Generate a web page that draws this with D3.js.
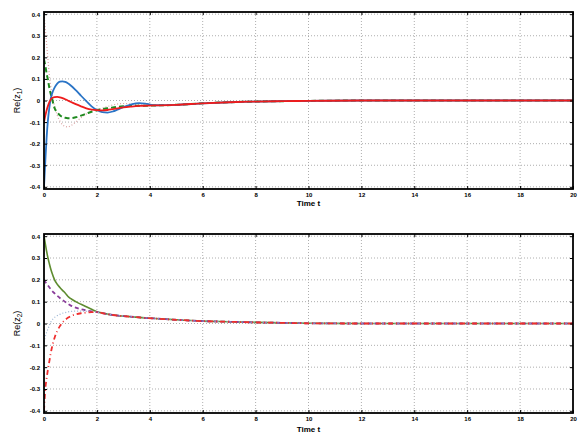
<!DOCTYPE html>
<html>
<head>
<meta charset="utf-8">
<script src="https://cdn.jsdelivr.net/npm/d3@7"></script>
<style>
  body { margin: 0; background: #fff; }
  text { font-family: "Liberation Sans", Arial, sans-serif; }
</style>
</head>
<body>
<script>
// time samples shared by all series
const time = [0, 0.05, 0.1, 0.15, 0.2, 0.25, 0.3, 0.4, 0.5, 0.6, 0.7, 0.8, 0.9, 1.0,
  1.2, 1.4, 1.6, 1.8, 2.0, 2.2, 2.4, 2.6, 2.8, 3.0, 3.3, 3.6, 3.9, 4.2,
  5, 6, 7, 8, 9, 10, 12, 14, 16, 18, 20];

// Re(z1)
const z1Blue = [-0.40, -0.28, -0.17, -0.09, -0.035, 0.005, 0.03, 0.06, 0.078, 0.087, 0.089, 0.086, 0.08, 0.071,
  0.048, 0.022, -0.003, -0.027, -0.044, -0.054, -0.056, -0.051, -0.041, -0.031, -0.018, -0.012, -0.016, -0.022,
  -0.02, -0.013, -0.008, -0.005, -0.003, -0.002, 0, 0, 0, 0, 0];
const z1Red = [-0.10, -0.07, -0.045, -0.025, -0.008, 0.004, 0.011, 0.016, 0.017, 0.015, 0.011, 0.006, 0.0, -0.006,
  -0.017, -0.027, -0.036, -0.042, -0.045, -0.046, -0.044, -0.04, -0.036, -0.032, -0.028, -0.025, -0.024, -0.023,
  -0.02, -0.013, -0.008, -0.005, -0.003, -0.002, 0, 0, 0, 0, 0];
const z1Green = [0.19, 0.16, 0.125, 0.095, 0.06, 0.032, 0.01, -0.035, -0.055, -0.068, -0.076, -0.08, -0.082, -0.082,
  -0.078, -0.07, -0.061, -0.052, -0.045, -0.04, -0.036, -0.032, -0.029, -0.027, -0.025, -0.024, -0.024, -0.023,
  -0.02, -0.013, -0.008, -0.005, -0.003, -0.002, 0, 0, 0, 0, 0];
const z1Pink = [0.40, 0.33, 0.26, 0.19, 0.12, 0.07, 0.03, -0.025, -0.068, -0.095, -0.112, -0.12, -0.122, -0.118,
  -0.1, -0.08, -0.062, -0.05, -0.043, -0.036, -0.028, -0.021, -0.016, -0.014, -0.016, -0.02, -0.023, -0.023,
  -0.02, -0.013, -0.008, -0.005, -0.003, -0.002, 0, 0, 0, 0, 0];

// Re(z2)
const z2Olive = [0.40, 0.365, 0.33, 0.30, 0.275, 0.252, 0.232, 0.20, 0.18, 0.165, 0.152, 0.14, 0.125, 0.115,
  0.1, 0.088, 0.077, 0.065, 0.054, 0.048, 0.043, 0.039, 0.036, 0.034, 0.031, 0.028, 0.025, 0.023,
  0.017, 0.011, 0.008, 0.005, 0.003, 0.001, 0, 0, 0, 0, 0];
const z2Purple = [0.20, 0.19, 0.182, 0.174, 0.166, 0.158, 0.15, 0.138, 0.127, 0.117, 0.108, 0.099, 0.09, 0.083,
  0.073, 0.065, 0.06, 0.056, 0.052, 0.048, 0.043, 0.039, 0.036, 0.034, 0.031, 0.028, 0.025, 0.023,
  0.017, 0.011, 0.008, 0.005, 0.003, 0.001, 0, 0, 0, 0, 0];
const z2LightBlue = [-0.085, -0.06, -0.04, -0.025, -0.01, 0.005, 0.015, 0.028, 0.036, 0.042, 0.047, 0.05, 0.053, 0.055,
  0.057, 0.057, 0.056, 0.054, 0.052, 0.048, 0.043, 0.039, 0.036, 0.034, 0.031, 0.028, 0.025, 0.023,
  0.017, 0.011, 0.008, 0.005, 0.003, 0.001, 0, 0, 0, 0, 0];
const z2Red = [-0.40, -0.30, -0.25, -0.21, -0.175, -0.14, -0.11, -0.065, -0.035, -0.012, 0.005, 0.016, 0.026, 0.033,
  0.042, 0.047, 0.05, 0.052, 0.052, 0.048, 0.043, 0.039, 0.036, 0.034, 0.031, 0.028, 0.025, 0.023,
  0.017, 0.011, 0.008, 0.005, 0.003, 0.001, 0, 0, 0, 0, 0];

const xTicks = [0, 2, 4, 6, 8, 10, 12, 14, 16, 18, 20];
const yTicks = [-0.4, -0.3, -0.2, -0.1, 0, 0.1, 0.2, 0.3, 0.4];

const W = 588, H = 438;
const svg = d3.select("body").append("svg")
  .attr("width", W).attr("height", H);

const fmt = d => String(+d.toFixed(1));

function drawPanel(id, box, label, series) {
  const x = d3.scaleLinear().domain([0, 20]).range([box.l, box.r]);
  const y = d3.scaleLinear().domain([-0.41, 0.41]).range([box.b, box.t]);
  const g = svg.append("g");

  // dotted grid
  g.append("g").selectAll("line").data(xTicks.slice(1, -1)).enter().append("line")
    .attr("x1", d => x(d)).attr("x2", d => x(d))
    .attr("y1", box.t).attr("y2", box.b)
    .attr("stroke", "#999").attr("stroke-width", 0.8).attr("stroke-dasharray", "1,2");
  g.append("g").selectAll("line").data(yTicks).enter().append("line")
    .attr("x1", box.l).attr("x2", box.r)
    .attr("y1", d => y(d)).attr("y2", d => y(d))
    .attr("stroke", "#999").attr("stroke-width", 0.8).attr("stroke-dasharray", "1,2");

  g.append("clipPath").attr("id", id)
    .append("rect").attr("x", box.l).attr("y", box.t)
    .attr("width", box.r - box.l).attr("height", box.b - box.t);

  const line = d3.line()
    .x((d, i) => x(time[i]))
    .y(d => y(d))
    .curve(d3.curveMonotoneX);

  const lines = g.append("g").attr("clip-path", `url(#${id})`);
  series.forEach(s => {
    lines.append("path")
      .attr("d", line(s.values))
      .attr("fill", "none")
      .attr("stroke", s.color)
      .attr("stroke-width", s.width)
      .attr("stroke-dasharray", s.dash || null);
  });

  // axes with inward ticks
  const ax = (axis, tx, ty, labels) => {
    const a = g.append("g").attr("transform", `translate(${tx},${ty})`).call(axis);
    a.select(".domain").remove();
    a.selectAll(".tick line").attr("stroke", "#000").attr("stroke-width", 1);
    a.selectAll("text")
      .attr("font-size", "6px").attr("font-weight", "bold").attr("fill", "#000")
      .style("font-family", "'Liberation Sans', Arial, sans-serif");
    if (!labels) a.selectAll("text").remove();
    return a;
  };
  ax(d3.axisBottom(x).tickValues(xTicks).tickSize(-3).tickPadding(4).tickFormat(fmt), 0, box.b, true);
  ax(d3.axisTop(x).tickValues(xTicks).tickSize(-3), 0, box.t, false);
  ax(d3.axisLeft(y).tickValues(yTicks).tickSize(-3).tickPadding(4).tickFormat(fmt), box.l, 0, true);
  ax(d3.axisRight(y).tickValues(yTicks).tickSize(-3), box.r, 0, false);

  g.append("rect")
    .attr("x", box.l).attr("y", box.t)
    .attr("width", box.r - box.l).attr("height", box.b - box.t)
    .attr("fill", "none").attr("stroke", "#000").attr("stroke-width", 1.8);

  g.append("text")
    .attr("x", (box.l + box.r) / 2).attr("y", box.b + box.titleDy)
    .attr("text-anchor", "middle")
    .attr("font-size", "8px").attr("font-weight", "bold")
    .text("Time t");

  const yl = g.append("text")
    .attr("transform", `translate(20,${(box.t + box.b) / 2}) rotate(-90)`)
    .attr("text-anchor", "middle")
    .attr("font-size", "9px");
  yl.append("tspan").text("Re(z");
  yl.append("tspan").attr("font-size", "6.5px").attr("dy", 2).text(label);
  yl.append("tspan").attr("dy", -2).text(")");
}

drawPanel("clip1", { l: 44, r: 573, t: 12, b: 189, titleDy: 17 }, "1", [
  { values: z1Pink, color: "#dca4a4", width: 1.2, dash: "1,2" },
  { values: z1Green, color: "#1f8a1f", width: 2, dash: "5,3" },
  { values: z1Blue, color: "#2a74c6", width: 1.8 },
  { values: z1Red, color: "#ee1c1c", width: 1.8 }
]);

drawPanel("clip2", { l: 44, r: 573, t: 234, b: 413, titleDy: 19 }, "2", [
  { values: z2Olive, color: "#5e8c30", width: 1.6 },
  { values: z2Purple, color: "#8a3d9a", width: 1.8, dash: "4,3" },
  { values: z2LightBlue, color: "#9ab4d2", width: 1.2, dash: "1,2" },
  { values: z2Red, color: "#ee2e2e", width: 1.8, dash: "5,3,1,3" }
]);
</script>
</body>
</html>
